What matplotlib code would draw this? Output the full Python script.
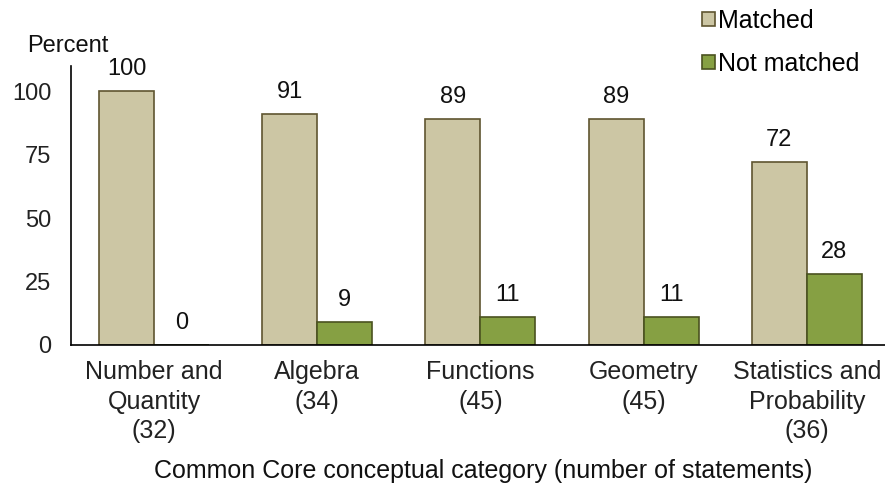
import matplotlib
matplotlib.use("Agg")
import matplotlib.pyplot as plt
import numpy as np

plt.rcParams['font.family'] = ['Liberation Sans', 'DejaVu Sans']

categories = ["Number and\nQuantity\n(32)", "Algebra\n(34)", "Functions\n(45)", "Geometry\n(45)", "Statistics and\nProbability\n(36)"]
matched = [100, 91, 89, 89, 72]
not_matched = [0, 9, 11, 11, 28]
yticks = [0, 25, 50, 75, 100]

FS = 17
FT = 18
fig = plt.figure(figsize=(8.85, 4.87), dpi=100)
ax = fig.add_axes([0.0802, 0.2916, 0.9198, 0.5729])

x = np.arange(len(categories))
w = 0.337
b1 = ax.bar(x - w/2, matched, w, color='#CCC6A4', edgecolor='#5F5530', linewidth=1.2, label='Matched')
b2 = ax.bar(x + w/2, not_matched, w, color='#86A043', edgecolor='#4A5220', linewidth=1.2, label='Not matched')

for bars, vals in ((b1, matched), (b2, not_matched)):
    for r, v in zip(bars, vals):
        ax.annotate(str(v), (r.get_x() + r.get_width()/2, v), xytext=(0, 8),
                    textcoords='offset points', ha='center', va='bottom', fontsize=FS, color='#111111')

ax.set_xlim(-0.51, 4.48)
ax.set_ylim(0, 110)
ax.set_yticks(yticks)
ax.set_yticklabels([str(t) for t in yticks], fontsize=FS)
ax.set_xticks(x)
ax.set_xticklabels(categories, fontsize=FT, color='#222222', linespacing=1.28)
ax.tick_params(axis='both', length=0, colors='#222222')
ax.tick_params(axis='y', pad=14)
ax.tick_params(axis='x', pad=11)
for s in ('top', 'right'):
    ax.spines[s].set_visible(False)
ax.spines['left'].set_linewidth(1.2)
ax.spines['bottom'].set_linewidth(1.2)

fig.text(0.031, 0.905, 'Percent', fontsize=FS, color='#111111', va='center', ha='left')
fig.text(483/885, 1 - 471/487, 'Common Core conceptual category (number of statements)',
         fontsize=18, color='#111111', ha='center', va='center')

ax.legend(loc='upper left', bbox_to_anchor=(0.782, 1.002), bbox_transform=fig.transFigure,
          frameon=False, fontsize=FT, handlelength=0.5, handleheight=0.5, handletextpad=0.15,
          labelspacing=0.75, borderaxespad=0)

fig.savefig('out.png', dpi=100)
